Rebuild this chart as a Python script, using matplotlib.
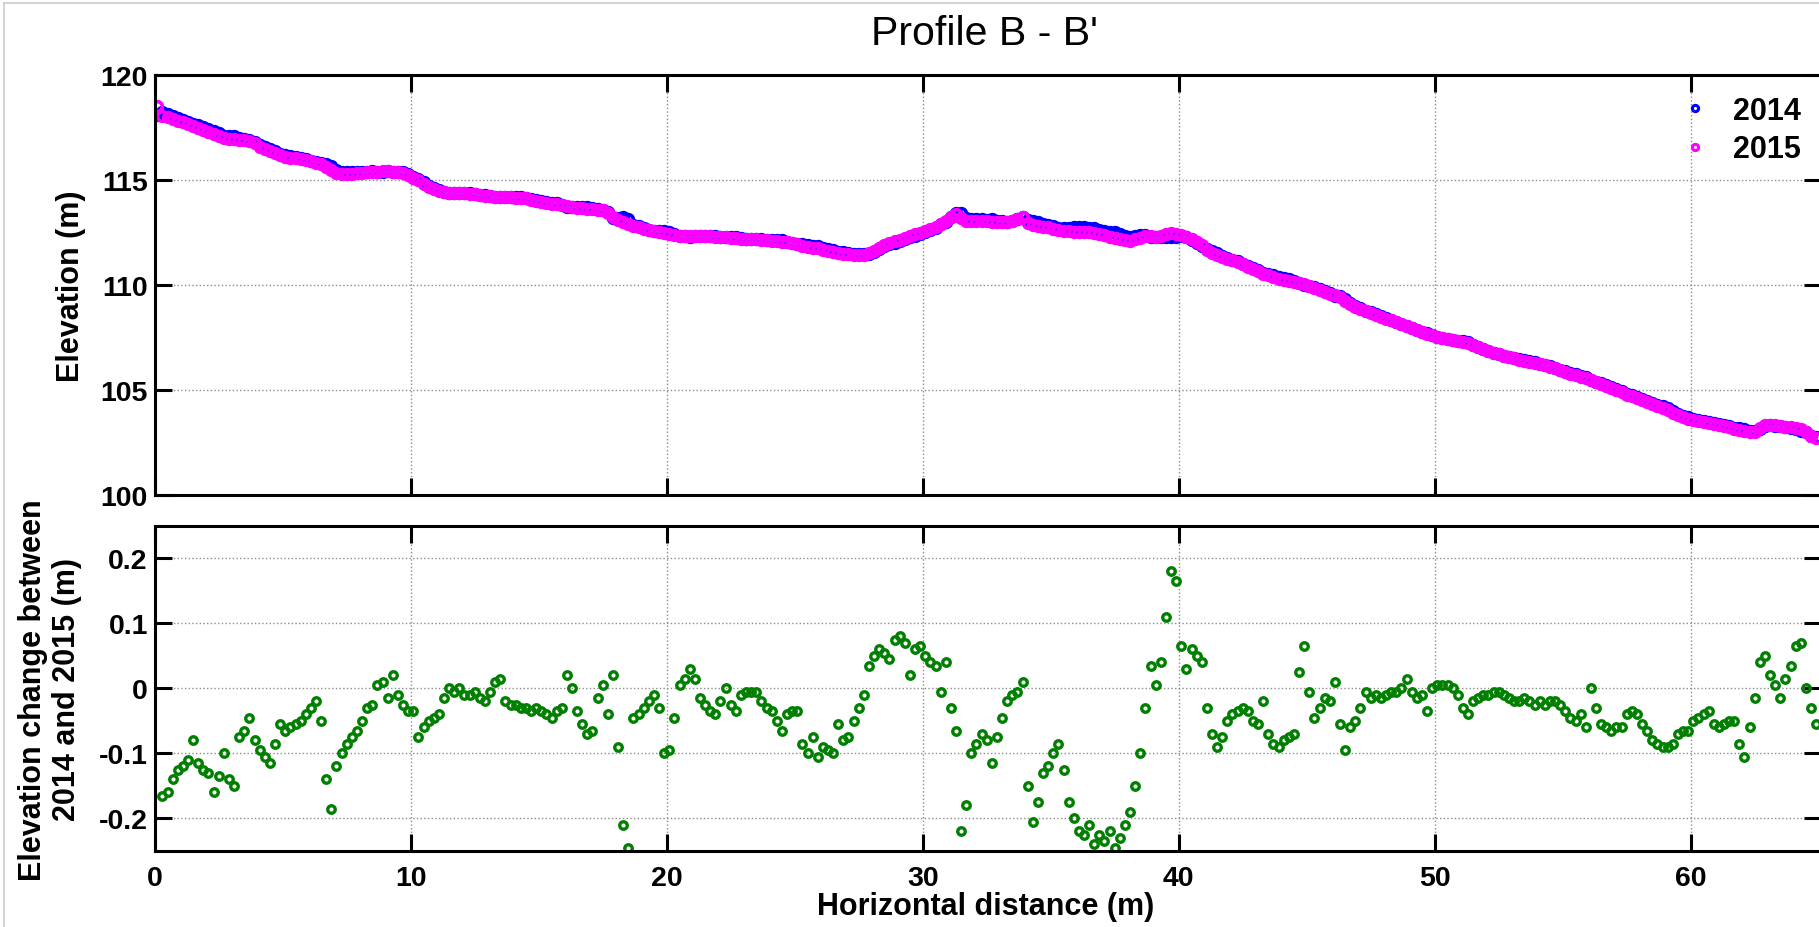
import numpy as np
import matplotlib
matplotlib.use('Agg')
import matplotlib.pyplot as plt
from matplotlib.lines import Line2D

plt.rcParams['font.family'] = ['Liberation Sans', 'DejaVu Sans']

# survey stations: first one at 0.1 m, then every 0.2 m
start_dist = 0.1
step_dist = 0.2

# 2015 elevation (m), one row per metre
elev_2015 = [
    118.50, 118.05, 117.98, 117.90, 117.82,
    117.73, 117.65, 117.57, 117.48, 117.38,
    117.28, 117.18, 117.08, 117.00, 116.94,
    116.92, 116.90, 116.88, 116.84, 116.74,
    116.58, 116.45, 116.36, 116.27, 116.18,
    116.10, 116.05, 116.02, 115.98, 115.93,
    115.88, 115.82, 115.75, 115.62, 115.45,
    115.33, 115.29, 115.28, 115.28, 115.30,
    115.33, 115.36, 115.38, 115.39, 115.40,
    115.40, 115.39, 115.37, 115.33, 115.22,
    115.10, 114.98, 114.82, 114.67, 114.55,
    114.47, 114.42, 114.39, 114.37, 114.36,
    114.35, 114.34, 114.32, 114.28, 114.24,
    114.21, 114.19, 114.18, 114.17, 114.16,
    114.15, 114.14, 114.12, 114.06, 114.00,
    113.95, 113.91, 113.87, 113.84, 113.79,
    113.74, 113.70, 113.67, 113.64, 113.62,
    113.60, 113.58, 113.55, 113.42, 113.22,
    113.10, 113.00, 112.90, 112.81, 112.75,
    112.68, 112.61, 112.56, 112.51, 112.47,
    112.42, 112.37, 112.34, 112.33, 112.33,
    112.32, 112.32, 112.32, 112.31, 112.30,
    112.28, 112.26, 112.24, 112.22, 112.20,
    112.19, 112.17, 112.16, 112.14, 112.12,
    112.11, 112.09, 112.06, 112.02, 111.98,
    111.93, 111.87, 111.82, 111.77, 111.73,
    111.68, 111.61, 111.56, 111.52, 111.49,
    111.46, 111.44, 111.43, 111.44, 111.52,
    111.63, 111.76, 111.88, 111.98, 112.07,
    112.15, 112.24, 112.32, 112.40, 112.48,
    112.55, 112.64, 112.75, 112.90, 113.05,
    113.22, 113.36, 113.20, 113.02, 113.04,
    113.06, 113.05, 113.02, 113.00, 112.98,
    112.97, 112.98, 113.03, 113.12, 113.22,
    112.95, 112.84, 112.80, 112.76, 112.73,
    112.68, 112.62, 112.57, 112.55, 112.53,
    112.52, 112.51, 112.50, 112.46, 112.40,
    112.35, 112.30, 112.25, 112.18, 112.12,
    112.11, 112.16, 112.25, 112.33, 112.32,
    112.28, 112.32, 112.40, 112.45, 112.44,
    112.37, 112.30, 112.18, 112.06, 111.88,
    111.68, 111.52, 111.42, 111.32, 111.24,
    111.16, 111.08, 110.98, 110.86, 110.74,
    110.64, 110.54, 110.45, 110.37, 110.30,
    110.24, 110.18, 110.13, 110.09, 110.04,
    109.96, 109.87, 109.77, 109.67, 109.58,
    109.50, 109.42, 109.25, 109.08, 108.95,
    108.85, 108.77, 108.68, 108.58, 108.48,
    108.39, 108.31, 108.23, 108.14, 108.05,
    107.95, 107.85, 107.76, 107.67, 107.59,
    107.53, 107.48, 107.43, 107.38, 107.33,
    107.28, 107.22, 107.13, 107.03, 106.93,
    106.84, 106.76, 106.69, 106.62, 106.56,
    106.50, 106.44, 106.39, 106.34, 106.29,
    106.23, 106.17, 106.10, 106.02, 105.93,
    105.85, 105.78, 105.70, 105.63, 105.55,
    105.46, 105.37, 105.28, 105.18, 105.08,
    104.98, 104.88, 104.78, 104.70, 104.61,
    104.52, 104.42, 104.32, 104.22, 104.13,
    104.03, 103.92, 103.80, 103.70, 103.63,
    103.57, 103.52, 103.47, 103.43, 103.39,
    103.34, 103.28, 103.22, 103.15, 103.09,
    103.04, 103.00, 103.02, 103.20, 103.35,
    103.34, 103.31, 103.28, 103.25, 103.23,
    103.20, 103.12, 102.98, 102.80, 102.70,
]

# elevation change 2015 - 2014 (m)
dz = [
    0.42, -0.165, -0.16, -0.14, -0.125,
    -0.12, -0.11, -0.08, -0.115, -0.125,
    -0.13, -0.16, -0.135, -0.10, -0.14,
    -0.15, -0.075, -0.065, -0.045, -0.08,
    -0.095, -0.105, -0.115, -0.085, -0.055,
    -0.065, -0.06, -0.055, -0.05, -0.04,
    -0.03, -0.02, -0.05, -0.14, -0.185,
    -0.12, -0.10, -0.085, -0.075, -0.065,
    -0.05, -0.03, -0.025, 0.005, 0.01,
    -0.015, 0.02, -0.01, -0.025, -0.035,
    -0.035, -0.075, -0.06, -0.05, -0.045,
    -0.04, -0.015, 0.0, -0.005, 0.0,
    -0.01, -0.01, -0.005, -0.015, -0.02,
    -0.005, 0.01, 0.015, -0.02, -0.025,
    -0.025, -0.03, -0.03, -0.035, -0.03,
    -0.035, -0.04, -0.045, -0.035, -0.03,
    0.02, 0.0, -0.035, -0.055, -0.07,
    -0.065, -0.015, 0.005, -0.04, 0.02,
    -0.09, -0.21, -0.245, -0.045, -0.04,
    -0.03, -0.02, -0.01, -0.03, -0.10,
    -0.095, -0.045, 0.005, 0.015, 0.03,
    0.015, -0.015, -0.025, -0.035, -0.04,
    -0.02, 0.0, -0.025, -0.035, -0.01,
    -0.005, -0.005, -0.005, -0.02, -0.03,
    -0.035, -0.05, -0.065, -0.04, -0.035,
    -0.035, -0.085, -0.10, -0.075, -0.105,
    -0.09, -0.095, -0.10, -0.055, -0.08,
    -0.075, -0.05, -0.03, -0.01, 0.035,
    0.05, 0.06, 0.055, 0.045, 0.075,
    0.08, 0.07, 0.02, 0.06, 0.065,
    0.05, 0.04, 0.035, -0.005, 0.04,
    -0.03, -0.065, -0.22, -0.18, -0.10,
    -0.085, -0.07, -0.08, -0.115, -0.075,
    -0.045, -0.02, -0.01, -0.005, 0.01,
    -0.15, -0.205, -0.175, -0.13, -0.12,
    -0.10, -0.085, -0.125, -0.175, -0.20,
    -0.22, -0.225, -0.21, -0.24, -0.225,
    -0.235, -0.22, -0.245, -0.23, -0.21,
    -0.19, -0.15, -0.10, -0.03, 0.035,
    0.005, 0.04, 0.11, 0.18, 0.165,
    0.065, 0.03, 0.06, 0.05, 0.04,
    -0.03, -0.07, -0.09, -0.075, -0.05,
    -0.04, -0.035, -0.03, -0.035, -0.05,
    -0.055, -0.02, -0.07, -0.085, -0.09,
    -0.08, -0.075, -0.07, 0.025, 0.065,
    -0.005, -0.045, -0.03, -0.015, -0.02,
    0.01, -0.055, -0.095, -0.06, -0.05,
    -0.03, -0.005, -0.015, -0.01, -0.015,
    -0.01, -0.005, -0.005, 0.0, 0.015,
    -0.005, -0.015, -0.01, -0.035, 0.0,
    0.005, 0.005, 0.005, 0.0, -0.01,
    -0.03, -0.04, -0.02, -0.015, -0.01,
    -0.01, -0.005, -0.005, -0.01, -0.015,
    -0.02, -0.02, -0.015, -0.02, -0.025,
    -0.02, -0.025, -0.02, -0.02, -0.025,
    -0.035, -0.045, -0.05, -0.04, -0.06,
    0.0, -0.03, -0.055, -0.06, -0.065,
    -0.06, -0.06, -0.04, -0.035, -0.04,
    -0.055, -0.065, -0.08, -0.085, -0.09,
    -0.09, -0.085, -0.07, -0.065, -0.065,
    -0.05, -0.045, -0.04, -0.035, -0.055,
    -0.06, -0.055, -0.05, -0.05, -0.085,
    -0.105, -0.06, -0.015, 0.04, 0.05,
    0.02, 0.005, -0.015, 0.015, 0.035,
    0.065, 0.07, 0.0, -0.03, -0.055,
]

year_labels = ['2014', '2015']
elev_ticks = [100, 105, 110, 115, 120]
dz_ticks = [-0.2, -0.1, 0, 0.1, 0.2]
dist_ticks = [0, 10, 20, 30, 40, 50, 60]

dist = start_dist + step_dist * np.arange(len(dz))
e15 = np.array(elev_2015)
e14 = e15 - np.array(dz)

W, H = 1819, 928
fig = plt.figure(figsize=(W / 100, H / 100), dpi=100)

# light frame of the original export (top and left edge only)
fig.add_artist(Line2D([4 / W, 1], [1 - 4 / H, 1 - 4 / H], color='#cccccc', lw=1.2))
fig.add_artist(Line2D([4 / W, 4 / W], [0, 1 - 4 / H], color='#cccccc', lw=1.2))

left = 154.7 / W
width = (1821.3 - 154.7) / W
ax1 = fig.add_axes([left, 1 - 496 / H, width, (496 - 75.7) / H])
ax2 = fig.add_axes([left, 1 - 852 / H, width, (852 - 526.8) / H])

for ax in (ax1, ax2):
    ax.set_xlim(0, 65.1)
    ax.set_xticks(dist_ticks)
    ax.grid(True, linestyle=':', color='#8c8c8c', linewidth=1.0)
    ax.set_axisbelow(True)
    for s in ax.spines.values():
        s.set_linewidth(2.2)
    ax.tick_params(direction='in', length=12, width=2.2, top=True, right=True)
    ax.tick_params(axis='y', pad=5)
    ax.tick_params(axis='x', pad=10)

# top panel: elevation profiles
ax1.plot(dist, e14, 'o', mfc='none', mec='#0000ff', ms=7, mew=2.6, label=year_labels[0])
ax1.plot(dist, e15, 'o', mfc='none', mec='#ff00ff', ms=7, mew=2.6, label=year_labels[1])
ax1.set_ylim(100, 120)
ax1.set_yticks(elev_ticks)
ax1.set_yticklabels([str(t) for t in elev_ticks], fontsize=20.5, fontweight='bold')
ax1.tick_params(axis='x', labelbottom=False)

h1 = Line2D([], [], ls='none', marker='o', mfc='none', mec='#0000ff', ms=4.5, mew=2.2)
h2 = Line2D([], [], ls='none', marker='o', mfc='none', mec='#ff00ff', ms=4.5, mew=2.2)
ax1.legend([h1, h2], year_labels, loc='upper right',
           bbox_to_anchor=(1801 / W, 1 - 97 / H), bbox_transform=fig.transFigure,
           frameon=False, borderpad=0, borderaxespad=0, handlelength=1.0,
           handletextpad=0.75, labelspacing=0.27,
           prop=dict(family='Liberation Sans', size=22, weight='bold'))

# bottom panel: elevation change
ax2.plot(dist, dz, 'o', mfc='none', mec='#007f00', ms=5.4, mew=2.4)
ax2.set_ylim(-0.25, 0.25)
ax2.set_yticks(dz_ticks)
ax2.set_yticklabels(['-0.2', '-0.1', '0', '0.1', '0.2'], fontsize=20.5, fontweight='bold')
ax2.set_xticklabels([str(t) for t in dist_ticks], fontsize=20.5, fontweight='bold')

fig.text(984 / W, 1 - 34 / H, "Profile B - B'", ha='center', va='center', fontsize=29.5)
fig.text(71 / W, 1 - 286 / H, 'Elevation (m)', rotation=90, ha='center', va='center',
         fontsize=22, fontweight='bold')
fig.text(50 / W, 1 - 690 / H, 'Elevation change between\n2014 and 2015 (m)', rotation=90,
         ha='center', va='center', multialignment='center', linespacing=1.2,
         fontsize=22, fontweight='bold')
fig.text(986 / W, 1 - 907 / H, 'Horizontal distance (m)', ha='center', va='center',
         fontsize=22, fontweight='bold')

fig.savefig('out.png', dpi=100)
